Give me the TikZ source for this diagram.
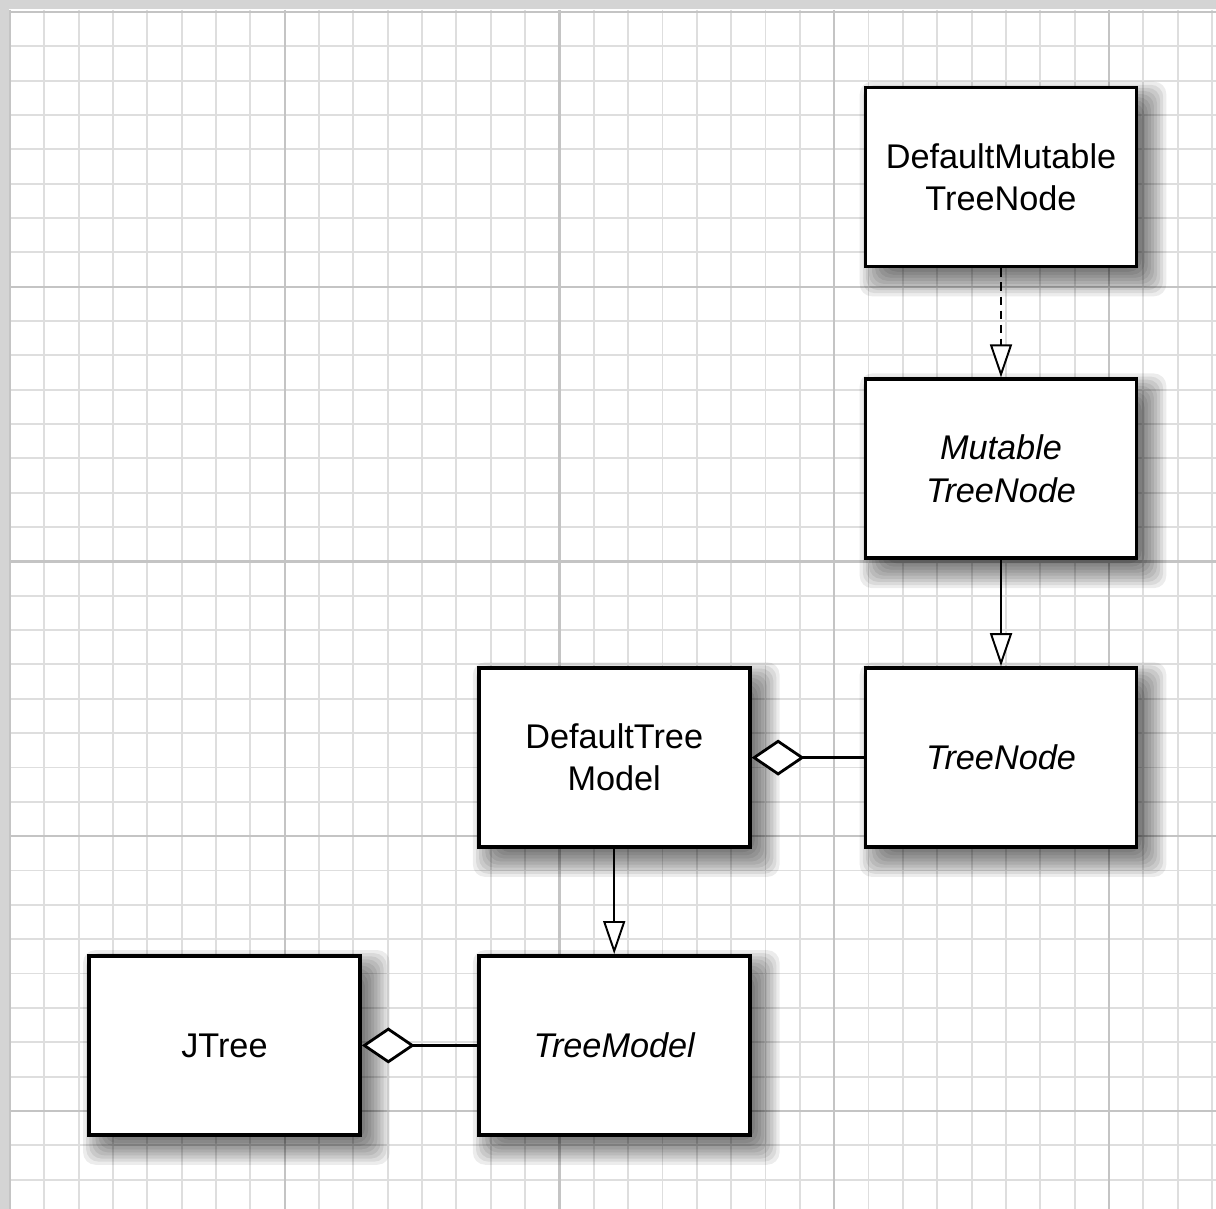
\documentclass[tikz,border=0pt]{standalone}
\usepackage{fontspec}
\setmainfont{Liberation Sans}
\usetikzlibrary{arrows.meta, positioning}
\definecolor{gridminor}{HTML}{DEDEDE}
\definecolor{gridmajor}{HTML}{C4C4C4}
\definecolor{pageedge}{HTML}{D4D4D4}
\pgfdeclarelayer{paper}
\pgfdeclarelayer{shade}
\pgfsetlayers{paper,shade,main}

\begin{document}
\begin{tikzpicture}[x=0.02cm, y=-0.02cm,
        font=\fontsize{19.5}{24}\selectfont,
        uml/.style={draw=black, fill=white, line width=2.2pt, minimum width=5.42cm,
          minimum height=3.58cm, align=center, inner sep=2pt},
        iface/.style={uml, font=\fontsize{19.5}{24}\selectfont\itshape},
        shadowring/.style={fill=black, opacity=0.075, rounded corners=7pt},
        inherit/.style={line width=1.1pt, -{Triangle[length=0.66cm, width=0.44cm, fill=white, line width=1.1pt]}},
        realize/.style={inherit, dash pattern=on 5pt off 3pt},
        aggr/.style={line width=1.6pt, -{Diamond[length=1.06cm, width=0.72cm, fill=white, line width=1.6pt]}}]
        \useasboundingbox (0,0) rectangle (1216,1209);
        % paper and grid
        \begin{pgfonlayer}{paper}
          \fill[pageedge] (0,0) rectangle (1216,1209);
          \fill[white] (9,9) rectangle (1216,1209);
          \foreach \i in {0,...,35}
            \draw[gridminor, line width=1.1pt] ({10+\i*34.34},10) -- ({10+\i*34.34},1209);
          \foreach \j in {0,...,34}
            \draw[gridminor, line width=1.1pt] (10,{12+\j*34.34}) -- (1216,{12+\j*34.34});
          \foreach \i in {0,...,4} {
            \draw[gridmajor, line width=1.3pt] ({10+\i*274.72},10) -- ({10+\i*274.72},1209);
            \draw[gridmajor, line width=1.3pt] (10,{12+\i*274.72}) -- (1216,{12+\i*274.72});
          }
        \end{pgfonlayer}
        % classes
        \node[uml] (dmtn) at (1001,177) {DefaultMutable\\TreeNode};
        \node[iface, below=2.18cm of dmtn] (mtn) {Mutable\\TreeNode};
        \node[iface, below=2.12cm of mtn] (tn) {TreeNode};
        \node[uml, left=2.24cm of tn] (dtm) {DefaultTree\\Model};
        \node[iface, below=2.1cm of dtm] (tm) {TreeModel};
        \node[uml, left=2.3cm of tm] (jtree) {JTree};
        % soft shadows
        \begin{pgfonlayer}{shade}
          \foreach \n in {dmtn,mtn,tn,dtm,tm,jtree}
            \foreach \k in {0,...,9}
              \fill[shadowring] ([shift={({24-\k*3.1},{24-\k*3.1})}]\n.north west)
                rectangle ([shift={({\k*3.1},{\k*3.1})}]\n.south east);
        \end{pgfonlayer}
        % relations
        \draw[realize] (dmtn) -- (mtn);
        \draw[inherit] (mtn) -- (tn);
        \draw[inherit] (dtm) -- (tm);
        \draw[aggr] (tn) -- (dtm);
        \draw[aggr] (tm) -- (jtree);
      \end{tikzpicture}
\end{document}
